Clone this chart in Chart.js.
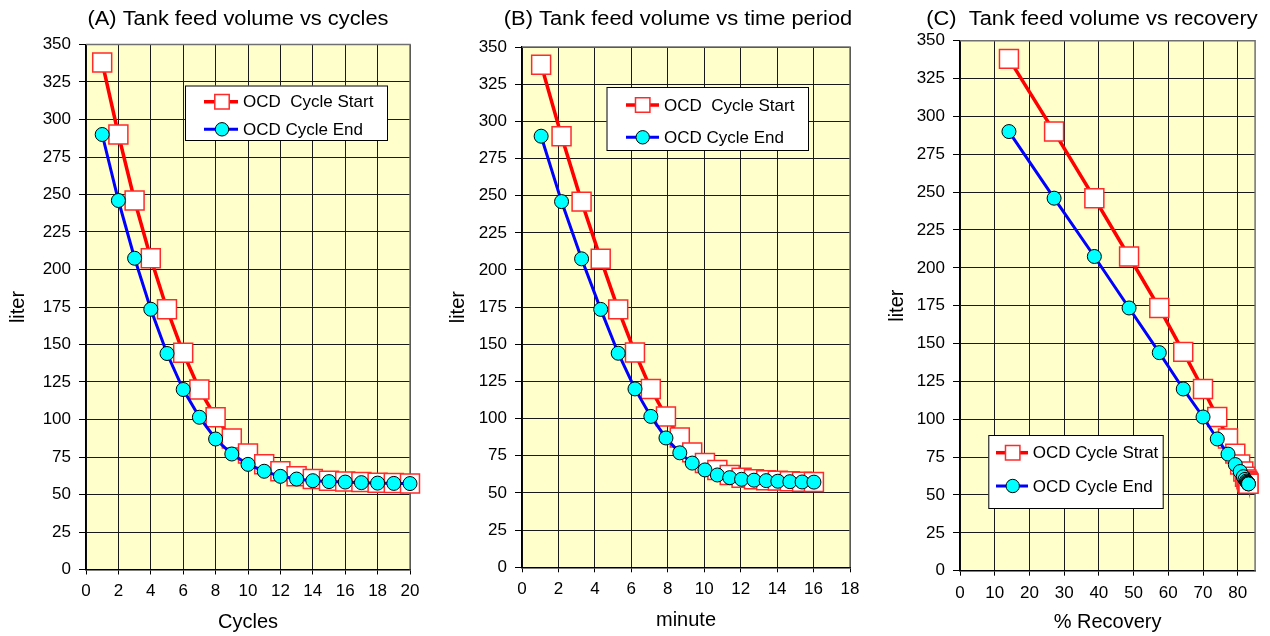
<!DOCTYPE html>
<html>
<head>
<meta charset="utf-8">
<script src="https://cdn.jsdelivr.net/npm/chart.js@4/dist/chart.umd.min.js"></script>
<style>
  html, body { margin: 0; padding: 0; background: #fff; width: 1270px; height: 636px; overflow: hidden; }
  canvas { position: absolute; top: 0; }
</style>
</head>
<body>
<canvas id="panelA" width="440" height="636" style="left:0px"></canvas>
<canvas id="panelB" width="435" height="636" style="left:440px"></canvas>
<canvas id="panelC" width="395" height="636" style="left:875px"></canvas>
<script>
// Feed tank volume per OCD cycle (litres)
const cycles   = [1, 2, 3, 4, 5, 6, 7, 8, 9, 10, 11, 12, 13, 14, 15, 16, 17, 18, 19, 20];
const minutes  = [1.05, 2.17, 3.27, 4.32, 5.28, 6.2, 7.07, 7.9, 8.66, 9.34, 10.04, 10.72, 11.4, 12.05, 12.73, 13.4, 14.04, 14.7, 15.37, 16.02];
const recovery = [14.1, 27.1, 38.7, 48.7, 57.4, 64.3, 70.0, 74.1, 77.2, 79.3, 80.7, 81.6, 82.1, 82.5, 82.7, 82.8, 82.9, 83.0, 83.0, 83.1];
const startVol = [338, 290, 246, 207.5, 173.5, 144.5, 120, 101.5, 87.3, 77.3, 70.1, 65.5, 62.1, 60.3, 59.2, 58.6, 58.3, 57.9, 57.6, 57.4];
const endVol   = [290, 246, 207.5, 173.5, 144, 120, 101.5, 87, 77, 70.1, 65.5, 62.1, 60.3, 59.2, 58.6, 58.3, 57.9, 57.6, 57.4, 57.3];

const volumeTicks = { min: 0, max: 350, step: 25 };

const FONT = '"Liberation Sans", Arial, sans-serif';
Chart.defaults.font.family = FONT;
Chart.defaults.color = '#000';

const startStyle = {
  borderColor: '#ff0000', borderWidth: 3.5,
  pointStyle: 'rect', pointRadius: 13.4,
  pointBackgroundColor: '#ffffff', pointBorderColor: '#ff2a2a', pointBorderWidth: 1.5
};
const endStyle = {
  borderColor: '#0000ff', borderWidth: 3,
  pointStyle: 'circle', pointRadius: 7,
  pointBackgroundColor: '#00ffff', pointBorderColor: '#000000', pointBorderWidth: 1
};

// Plot background, frame, panel title and in-plot legend
const panelDeco = {
  id: 'panelDeco',
  beforeDraw(chart) {
    const a = chart.chartArea, ctx = chart.ctx;
    ctx.save();
    ctx.fillStyle = '#ffffcc';
    ctx.fillRect(a.left, a.top, a.right - a.left, a.bottom - a.top);
    ctx.restore();
  },
  beforeDatasetsDraw(chart) {
    const a = chart.chartArea, ctx = chart.ctx;
    ctx.save();
    ctx.strokeStyle = '#707070';
    ctx.lineWidth = 1.5;
    ctx.beginPath();
    ctx.moveTo(a.left, a.top); ctx.lineTo(a.right, a.top); ctx.lineTo(a.right, a.bottom);
    ctx.stroke();
    ctx.restore();
  },
  afterDraw(chart, args, opts) {
    const ctx = chart.ctx;
    ctx.save();
    // title, set slightly wide
    ctx.save();
    ctx.translate(opts.titleX, opts.titleY);
    ctx.scale(1.12, 1);
    ctx.fillStyle = '#000';
    ctx.font = '19.5px ' + FONT;
    ctx.textAlign = 'center';
    ctx.textBaseline = 'alphabetic';
    ctx.fillText(opts.title, 0, 0);
    ctx.restore();
    // legend
    const L = opts.legend;
    ctx.fillStyle = '#fff';
    ctx.fillRect(L.x, L.y, L.w, L.h);
    ctx.strokeStyle = '#000';
    ctx.lineWidth = 1;
    ctx.strokeRect(L.x + 0.5, L.y + 0.5, L.w, L.h);
    chart.data.datasets.forEach((ds, i) => {
      const y = L.rows[i];
      ctx.strokeStyle = ds.borderColor;
      ctx.lineWidth = ds.borderWidth;
      ctx.beginPath();
      ctx.moveTo(L.lineX0, y); ctx.lineTo(L.lineX1, y);
      ctx.stroke();
      ctx.fillStyle = ds.pointBackgroundColor;
      ctx.strokeStyle = ds.pointBorderColor;
      ctx.lineWidth = ds.pointBorderWidth;
      Chart.helpers.drawPoint(ctx, {
        pointStyle: ds.pointStyle,
        radius: ds.pointStyle === 'rect' ? 10.2 : 6.7,
        borderWidth: ds.pointBorderWidth, rotation: 0
      }, L.markX, y);
      ctx.fillStyle = '#000';
      ctx.font = '17px ' + FONT;
      ctx.textAlign = 'left';
      ctx.textBaseline = 'middle';
      ctx.fillText(ds.label, L.textX, y + 1);
    });
    ctx.restore();
  }
};

function makePanel(id, p) {
  const toPts = (vals) => p.xs.map((x, i) => ({ x: x, y: vals[i] }));
  return new Chart(document.getElementById(id), {
    type: 'line',
    data: {
      datasets: [
        Object.assign({ label: p.startLabel, data: toPts(startVol), order: 1, clip: false }, startStyle),
        Object.assign({ label: 'OCD Cycle End', data: toPts(endVol), order: 0, clip: false }, endStyle)
      ]
    },
    plugins: [panelDeco],
    options: {
      responsive: false,
      animation: false,
      events: [],
      layout: { padding: { left: 0, top: p.area.top, right: p.area.right, bottom: 0 } },
      scales: {
        x: {
          type: 'linear', position: 'bottom',
          min: 0, max: p.xMax,
          afterFit: (s) => { s.height = p.area.xAxisH; },
          ticks: { stepSize: p.xStep, includeBounds: false, padding: 7, font: { size: 17 }, maxRotation: 0 },
          grid: { color: '#1a1a1a', lineWidth: 1, tickLength: 5, tickColor: '#000' },
          border: { color: '#000', width: 1.5 },
          title: { display: true, text: p.xTitle, font: { size: 20 }, padding: { top: 0, bottom: p.xTitlePad } }
        },
        y: {
          type: 'linear', position: 'left',
          min: volumeTicks.min, max: volumeTicks.max,
          afterFit: (s) => { s.width = p.area.left; },
          ticks: { stepSize: volumeTicks.step, padding: 8, font: { size: 17 } },
          grid: { color: '#1a1a1a', lineWidth: 1, tickLength: 7, tickColor: '#000' },
          border: { color: '#000', width: 1.5 },
          title: { display: true, text: 'liter', font: { size: 20 }, padding: { top: p.yTitlePad, bottom: 0 } }
        }
      },
      plugins: {
        legend: { display: false },
        tooltip: { enabled: false },
        panelDeco: {
          title: p.title, titleX: p.titleX, titleY: 25,
          legend: p.legend
        }
      }
    }
  });
}

makePanel('panelA', {
  xs: cycles, xMax: 20, xStep: 2, xTitle: 'Cycles',
  startLabel: 'OCD  Cycle Start',
  title: '(A) Tank feed volume vs cycles', titleX: 238,
  area: { left: 86, top: 44.5, right: 30, xAxisH: 66.5 },
  xTitlePad: 2, yTitlePad: 6,
  legend: { x: 185, y: 85.5, w: 202, h: 54.5, rows: [101.7, 129.3], lineX0: 204, lineX1: 238, markX: 222, textX: 243 }
});

makePanel('panelB', {
  xs: minutes, xMax: 18, xStep: 2, xTitle: 'minute',
  startLabel: 'OCD  Cycle Start',
  title: '(B) Tank feed volume vs time period', titleX: 238,
  area: { left: 82, top: 47, right: 25, xAxisH: 68.7 },
  xTitlePad: 4, yTitlePad: 6,
  legend: { x: 166.5, y: 87, w: 201.5, h: 63, rows: [105, 137.3], lineX0: 186, lineX1: 219, markX: 202.7, textX: 224 }
});

makePanel('panelC', {
  xs: recovery, xMax: 85, xStep: 10, xTitle: '% Recovery',
  startLabel: 'OCD Cycle Strat',
  title: '(C)  Tank feed volume vs recovery', titleX: 217,
  area: { left: 85, top: 40.7, right: 11, xAxisH: 65.3 },
  xTitlePad: 2, yTitlePad: 10,
  legend: { x: 113.3, y: 435, w: 174.4, h: 73, rows: [452.7, 486], lineX0: 121, lineX1: 153, markX: 137.7, textX: 157.7 }
});
</script>
</body>
</html>
